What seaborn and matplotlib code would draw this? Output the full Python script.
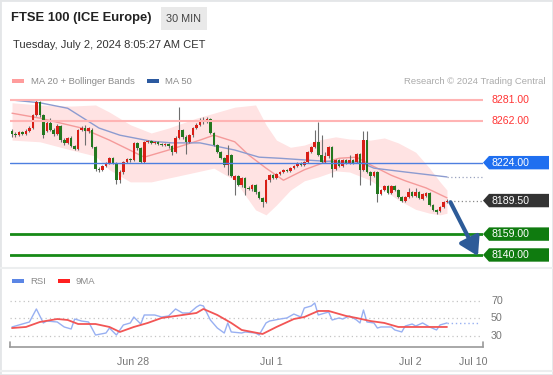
import matplotlib
matplotlib.use('Agg')
import matplotlib.pyplot as plt
import seaborn as sns
import numpy as np
import pandas as pd
from matplotlib.patches import Polygon, Rectangle
from matplotlib.transforms import ScaledTranslation

sns.set_theme(style='white')
plt.rcParams['font.family'] = ['Liberation Sans', 'DejaVu Sans']

# ---- 30 min candles (FTSE 100 futures) ----
opens = [8253, 8250, 8249, 8252, 8250, 8253, 8255.5, 8267.5, 8279, 8267.5,
         8253, 8260, 8253.5, 8250, 8257.5, 8244.5, 8242, 8246.5, 8239, 8236.5,
         8253.5, 8255.5, 8253, 8253.5, 8238, 8218, 8217.5, 8221, 8223.5, 8228,
         8223.5, 8208, 8215.5, 8224.5, 8227.5, 8226.5, 8242, 8237.5, 8224.5, 8243,
         8243.5, 8242, 8243, 8241, 8240, 8241, 8239, 8233.5, 8246.5, 8253.5,
         8247.5, 8243, 8249, 8255.5, 8258.5, 8263, 8261, 8263.5, 8251, 8240,
         8233.5, 8228, 8222, 8231, 8208, 8212, 8203.5, 8210, 8201, 8200,
         8203.5, 8197.5, 8192, 8188, 8208, 8212.5, 8210, 8213.5, 8215.5, 8217.5,
         8216.5, 8219, 8221, 8223.5, 8222, 8224.5, 8233.5, 8238, 8243, 8231,
         8224.5, 8230, 8238, 8218, 8226.5, 8221, 8226.5, 8223.5, 8226.5, 8224.5,
         8232, 8217.5, 8244.5, 8215.5, 8212, 8215.5, 8195.5, 8199, 8202.5, 8196.5,
         8202.5, 8199, 8192.5, 8189.5, 8192.5, 8197.5, 8193.5, 8197.5, 8191, 8193.5,
         8196.5, 8185.5, 8181, 8180, 8183.5, 8188]
closes = [8250, 8249, 8252, 8250, 8253, 8255.5, 8267.5, 8279, 8267.5, 8249,
          8260, 8253.5, 8250, 8257.5, 8244.5, 8242, 8246.5, 8239, 8236.5, 8253.5,
          8255.5, 8253, 8255.5, 8238, 8218, 8217.5, 8221, 8223.5, 8228, 8223.5,
          8208, 8215.5, 8224.5, 8227.5, 8226.5, 8242, 8237.5, 8224.5, 8243, 8243.5,
          8242, 8243, 8241, 8240, 8241, 8239, 8233.5, 8246.5, 8253.5, 8247.5,
          8243, 8249, 8255.5, 8258.5, 8263, 8261, 8263.5, 8251, 8240, 8233.5,
          8228, 8222, 8231, 8212, 8212, 8203.5, 8210, 8201, 8200, 8203.5,
          8197.5, 8192, 8188, 8208, 8212.5, 8210, 8213.5, 8215.5, 8217.5, 8216.5,
          8219, 8221, 8223.5, 8222, 8224.5, 8233.5, 8238, 8243, 8231, 8224.5,
          8230, 8238, 8218, 8226.5, 8221, 8226.5, 8223.5, 8226.5, 8223.5, 8232,
          8217.5, 8244.5, 8215.5, 8212, 8215.5, 8195.5, 8199, 8202.5, 8196.5, 8202.5,
          8199, 8192.5, 8189.5, 8192.5, 8197.5, 8193.5, 8197.5, 8192, 8195.5, 8196.5,
          8185.5, 8181, 8179, 8183.5, 8188, 8189.5]
highs = [8254.5, 8252, 8253, 8253, 8254.5, 8257.5, 8268.5, 8281, 8280, 8268.5,
         8262, 8264.5, 8255.5, 8259, 8258.5, 8246.5, 8247.5, 8248, 8240, 8254.5,
         8257.5, 8258.5, 8256.5, 8255.5, 8239, 8220, 8222, 8224.5, 8229, 8229,
         8224.5, 8217.5, 8225.5, 8228, 8228, 8243, 8243, 8238, 8243.5, 8244.5,
         8244.5, 8243.5, 8243.5, 8242, 8242, 8242, 8240, 8248, 8274.5, 8254.5,
         8249, 8250, 8256.5, 8260, 8264.5, 8265.5, 8265.5, 8264.5, 8252, 8241,
         8234.5, 8229, 8240, 8232, 8212.5, 8212.5, 8211, 8211, 8202.5, 8204.5,
         8204.5, 8198, 8192.5, 8209, 8213.5, 8213.5, 8214.5, 8216.5, 8218, 8218,
         8220, 8222, 8224.5, 8224.5, 8225.5, 8234.5, 8239, 8253.5, 8261, 8249,
         8233.5, 8239, 8239, 8227.5, 8227.5, 8227.5, 8227.5, 8231, 8227.5, 8233,
         8233, 8253, 8253, 8216.5, 8216.5, 8216.5, 8200, 8203.5, 8203.5, 8203.5,
         8203.5, 8200, 8193.5, 8193.5, 8201, 8198, 8201, 8198, 8196.5, 8197.5,
         8197.5, 8186.5, 8181.5, 8184.5, 8189.5, 8191]
lows = [8247.5, 8247.5, 8248, 8249, 8249, 8252, 8254.5, 8266.5, 8265.5, 8246.5,
        8252, 8253, 8248, 8249, 8243, 8240, 8241, 8238, 8235.5, 8235.5,
        8253, 8240, 8251, 8237.5, 8216.5, 8215.5, 8216.5, 8220, 8223, 8223,
        8204.5, 8205.5, 8213.5, 8223.5, 8224.5, 8225.5, 8235.5, 8223.5, 8223.5, 8242,
        8241, 8241, 8240, 8239, 8239, 8237.5, 8231, 8233, 8245.5, 8245.5,
        8232, 8242, 8247.5, 8254.5, 8257.5, 8259, 8260, 8250, 8239, 8233,
        8227.5, 8220, 8212.5, 8211, 8194.5, 8202.5, 8202, 8194.5, 8199, 8198,
        8195.5, 8191, 8183.5, 8187.5, 8206.5, 8209, 8209, 8212.5, 8214.5, 8215.5,
        8215.5, 8218, 8220, 8221, 8221, 8223.5, 8233, 8237.5, 8230, 8223.5,
        8223.5, 8228, 8211, 8217.5, 8220, 8220, 8223, 8223, 8223, 8223.5,
        8203.5, 8216.5, 8214.5, 8203.5, 8211, 8188, 8194.5, 8198, 8195.5, 8195.5,
        8198, 8192, 8188, 8188, 8192, 8192.5, 8192.5, 8191, 8190, 8192.5,
        8184.5, 8180, 8177, 8179, 8182.5, 8187.5]

# Bollinger bands / MA 20 / MA 50 read at sample bars
band_bar = [0, 8, 17, 24, 28, 34, 40, 45, 53, 58, 64, 70, 73, 76, 80, 84, 88, 93,
            97, 103, 107, 111, 116, 120, 123, 125]
band_upper = [8278.5, 8276.5, 8275.5, 8276.5, 8270, 8258.5, 8251, 8255.5, 8264.5,
              8269, 8274.5, 8276.5, 8258.5, 8244.5, 8238, 8240, 8244.5, 8247.5,
              8245.5, 8244.5, 8246.5, 8242, 8233.5, 8219, 8206.5, 8199]
band_lower = [8244.5, 8243, 8235.5, 8230, 8217.5, 8206.5, 8206.5, 8210, 8215.5,
              8219, 8208, 8181, 8176.5, 8185.5, 8199, 8207.5, 8211, 8216.5,
              8215.5, 8208, 8199, 8190, 8181.5, 8178, 8176.5, 8178]
ma20_bar = [0, 8, 20, 28, 38, 45, 54, 58, 64, 68, 73, 78, 84, 90, 94, 99, 103,
            109, 113, 119, 125]
ma20 = [8269, 8264.5, 8255.5, 8244.5, 8229, 8235.5, 8244.5, 8249, 8243, 8231,
        8219, 8208, 8217.5, 8224.5, 8228, 8229, 8222, 8212.5, 8207.5, 8201, 8192]
ma50_bar = [0, 8, 16, 20, 25, 31, 40, 46, 54, 64, 71, 77, 84, 94, 100, 104, 113, 125]
ma50 = [8281, 8278.5, 8273.5, 8265.5, 8255.5, 8249, 8243.5, 8242, 8242, 8235.5,
        8229, 8228, 8226.5, 8224.5, 8224.5, 8219, 8215.5, 8211]

# key levels
resist_levels = [8281.00, 8262.00]
pivot_level = 8224.00
last_price = 8189.50
support_levels = [8159.00, 8140.00]

# RSI and its 9 period MA
rsi_bar = [0, 2, 5, 7, 9, 10, 13, 15, 17, 18, 20, 22, 24, 27, 28, 30, 32, 34, 35,
           37, 38, 41, 43, 45, 47, 49, 51, 53, 54, 55, 57, 59, 61, 62, 63, 66, 67,
           70, 71, 73, 74, 77, 79, 81, 83, 84, 86, 87, 88, 90, 91, 92, 94, 95, 97,
           99, 100, 101, 102, 104, 105, 106, 109, 110, 112, 113, 115, 116, 118,
           120, 122, 123, 125]
rsi = [40.3, 42.6, 46, 60.9, 44.9, 47.1, 46, 40.3, 38, 49.4,
       47.1, 46, 31.1, 33.4, 39.1, 31.1, 42.6, 44.9, 51.7, 43.7,
       54, 54, 51.7, 52.9, 60.9, 56.3, 56.3, 63.1, 65.4, 64.3,
       48.3, 39.1, 33.4, 44.9, 34.6, 33.4, 34.6, 33.4, 31.1, 44.9,
       47.1, 49.4, 50.6, 55.1, 51.7, 62, 64.3, 67.7, 54, 56.3,
       57.4, 48.3, 50.6, 49.4, 52.9, 48.3, 44.9, 59.7, 46, 44.9,
       39.1, 40.3, 40.3, 36.9, 34.6, 41.4, 43.7, 41.4, 44.9, 40.3,
       36.9, 42.6, 44.9]
ma9_bar = [0, 4, 8, 13, 16, 19, 24, 28, 31, 35, 39, 43, 49, 53, 55, 59, 63, 66,
           69, 72, 76, 81, 84, 88, 91, 96, 99, 103, 107, 111, 115, 119, 122, 125]
ma9 = [39.1, 40.3, 46, 49.4, 48.3, 43.7, 43.7, 40.3, 34.6, 40.3, 44.9, 50.6,
       54, 56.3, 60.9, 54, 44.9, 36.9, 34.6, 32.3, 40.3, 49.4, 51.7, 58.6,
       58.6, 52.9, 50.6, 47.1, 44.9, 40.3, 40.3, 40.3, 40.3, 40.3]
rsi_levels = [30, 50, 70]

tick_pos = [34.8, 74.4, 114.4, 132.5]
tick_labels = ['Jun 28', 'Jul 1', 'Jul 2', 'Jul 10']

W, H = 553, 375
fig = plt.figure(figsize=(W / 100, H / 100), dpi=100)
fig.patch.set_facecolor('white')


def fx(px):
    return px / W


def fy(py):
    return 1 - py / H


xlim = (-0.58, 135.35)

# ---- header ----
fig.add_artist(Rectangle((0, 0), 1, 1, transform=fig.transFigure, fill=False,
                         ec='#e4e6e8', lw=2))
fig.text(fx(11), fy(18), 'FTSE 100 (ICE Europe)', fontsize=9.4, fontweight='bold',
         color='#222222', va='center')
fig.add_artist(Rectangle((fx(161), fy(30)), fx(46), 23 / H, transform=fig.transFigure,
                         fc='#e9e9e9', ec='none'))
fig.text(fx(184), fy(18.5), '30 MIN', fontsize=7.8, color='#444444', ha='center',
         va='center')
fig.text(fx(13), fy(45), 'Tuesday, July 2, 2024 8:05:27 AM CET', fontsize=8,
         color='#333333', va='center')

# legend row
fig.add_artist(Rectangle((fx(12), fy(83)), fx(12), 4 / H, transform=fig.transFigure,
                         fc='#ff9c9c', ec='none'))
fig.text(fx(31), fy(81), 'MA 20 + Bollinger Bands', fontsize=6.8, color='#8a8a8a',
         va='center')
fig.add_artist(Rectangle((fx(147), fy(83)), fx(12), 4 / H, transform=fig.transFigure,
                         fc='#2c5aa0', ec='none'))
fig.text(fx(165), fy(81), 'MA 50', fontsize=6.8, color='#8a8a8a', va='center')
fig.text(fx(545), fy(81), 'Research \u00a9 2024 Trading Central', fontsize=6.8,
         color='#ababab', va='center', ha='right')

# ---- price panel ----
ax = fig.add_axes([fx(10), fy(262), fx(473), 170 / H])
ax.set_xlim(*xlim)
ax.set_ylim(8133.6, 8288.3)
ax.axis('off')

ax.fill_between(band_bar, band_lower, band_upper, color='#ffe3e3', lw=0, zorder=1)
sns.lineplot(x=ma20_bar, y=ma20, ax=ax, color='#f59a9a', lw=1, zorder=2)
sns.lineplot(x=ma50_bar, y=ma50, ax=ax, color='#8c9bd0', lw=1, zorder=2)

df = pd.DataFrame({'open': opens, 'high': highs, 'low': lows, 'close': closes})
df['bar'] = np.arange(len(df))
body = df['close'] - df['open']
body = body.where(body.abs() > 0.6, np.sign(body).replace(0, 1) * 0.6)
colors = np.where(df['close'] >= df['open'], '#d81e16', '#23781f')
ax.vlines(df['bar'], df['low'], df['high'], color='#6e6e6e', lw=0.8, zorder=3)
ax.bar(df['bar'], body, bottom=df['open'], width=0.75, color=colors, lw=0, zorder=4)

# levels
for lv in resist_levels:
    ax.axhline(lv, color='#ffb4b4', lw=1.5, zorder=5)
ax.axhline(pivot_level, color='#4d7fe0', lw=1, zorder=5)
for lv in support_levels:
    ax.axhline(lv, color='#168a16', lw=2, zorder=5)

ax.hlines(ma50[-1], ma50_bar[-1], xlim[1], color='#9aa2bf', lw=0.9, ls=(0, (1, 2)),
          zorder=5)
ax.hlines(last_price, len(df), xlim[1], color='#8a8a8a', lw=0.9, ls=(0, (1, 2)),
          zorder=5)

ax.annotate('', xy=(133.9, support_levels[1] - 1), xytext=(len(df), last_price - 1.5),
            arrowprops=dict(arrowstyle='-|>,head_length=0.9,head_width=0.55',
                            color='#2d5b98', lw=3, shrinkA=0, shrinkB=0),
            zorder=6, annotation_clip=False)

yax = ax.get_yaxis_transform()


def anchor(price):
    return fig.dpi_scale_trans + ScaledTranslation(1.0, price, yax)


def tag(price, face):
    shape = [(0, 0), (0.06, 0.067), (0.66, 0.067), (0.66, -0.067), (0.06, -0.067)]
    ax.add_patch(Polygon(shape, closed=True, transform=anchor(price), fc=face, ec='none',
                         clip_on=False, zorder=7))
    ax.text(0.09, 0, f'{price:.2f}', transform=anchor(price), fontsize=7.6,
            color='white', va='center', zorder=8, clip_on=False)


for lv in resist_levels:
    ax.text(0.09, 0, f'{lv:.2f}', transform=anchor(lv), fontsize=7.6, color='#ff3535',
            va='center', clip_on=False)
tag(pivot_level, '#1f6ff0')
tag(last_price, '#333333')
for lv in support_levels:
    tag(lv, '#0f7b0f')

# separator between panels
fig.add_artist(plt.Line2D([0, 1], [fy(268), fy(268)], transform=fig.transFigure,
                          color='#eceeef', lw=1.5))

# ---- RSI panel ----
fig.add_artist(Rectangle((fx(12), fy(283)), fx(12), 4 / H, transform=fig.transFigure,
                         fc='#5b86e5', ec='none'))
fig.text(fx(30), fy(281), 'RSI', fontsize=6.8, color='#8a8a8a', va='center')
fig.add_artist(Rectangle((fx(58), fy(283)), fx(12), 4 / H, transform=fig.transFigure,
                         fc='#ff2020', ec='none'))
fig.text(fx(76), fy(281), '9MA', fontsize=6.8, color='#8a8a8a', va='center')

ax2 = fig.add_axes([fx(10), fy(347), fx(473), 55 / H])
ax2.set_xlim(*xlim)
ax2.set_ylim(17.4, 80.3)
for s in ['top', 'left', 'right']:
    ax2.spines[s].set_visible(False)
ax2.spines['bottom'].set_color('#9a9a9a')
ax2.spines['bottom'].set_linewidth(1.2)
ax2.set_facecolor('none')
ax2.set_yticks([])
for lv in rsi_levels:
    ax2.axhline(lv, color='#c4c4c4', lw=0.9, ls=(0, (1, 2.5)), zorder=1)
    ax2.text(1.0 + 8 / 473, lv, str(lv), transform=ax2.get_yaxis_transform(),
             fontsize=7.7, color='#777777', va='center', clip_on=False)
sns.lineplot(x=rsi_bar, y=rsi, ax=ax2, color='#98b0f2', lw=1, zorder=2)
sns.lineplot(x=ma9_bar, y=ma9, ax=ax2, color='#f25555', lw=1.3, zorder=3)
ax2.hlines(rsi[-1], rsi_bar[-1], 133.9, color='#98b0f2', lw=1, ls=(0, (1, 2)))
for xe in [0, 1]:
    ax2.plot([xe, xe], [0, 0.09], transform=ax2.transAxes, color='#9a9a9a', lw=1.2,
             clip_on=False)
ax2.set_xticks(tick_pos)
ax2.set_xticklabels(tick_labels)
ax2.tick_params(axis='x', length=0, pad=7, labelsize=7.7, labelcolor='#777777')
ax2.set_xlabel('')
ax2.set_ylabel('')
ax.set_xlabel('')
ax.set_ylabel('')

fig.add_artist(plt.Line2D([0, 1], [fy(371), fy(371)], transform=fig.transFigure,
                          color='#eceeef', lw=1.5))

fig.savefig('out.png', dpi=100)
